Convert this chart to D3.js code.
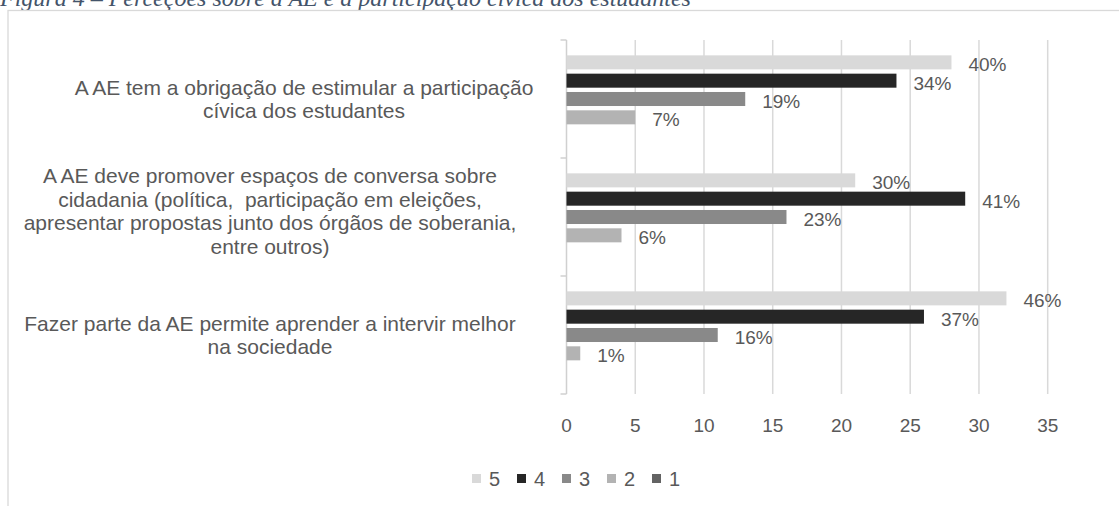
<!DOCTYPE html>
<html>
<head>
<meta charset="utf-8">
<script src="https://cdn.jsdelivr.net/npm/d3@7"></script>
<style>
  body { margin: 0; background: #fff; }
  svg { display: block; }
  .lbl { font-family: "Liberation Sans", Arial, sans-serif; fill: #595959; }
</style>
</head>
<body>
<svg id="chart" width="1119" height="506"></svg>
<script>
const CAPTION = "Figura 4 – Perceções sobre a AE e a participação cívica dos estudantes";

// category labels, already wrapped the way the original shows them
const categories = [
  ["A AE tem a obrigação de estimular a participação", "cívica dos estudantes"],
  ["A AE deve promover espaços de conversa sobre", "cidadania (política,  participação em eleições,",
    "apresentar propostas junto dos órgãos de soberania,", "entre outros)"],
  ["Fazer parte da AE permite aprender a intervir melhor", "na sociedade"]
];

const seriesKeys = ["5", "4", "3", "2", "1"];
const values5 = [28, 21, 32];
const values4 = [24, 29, 26];
const values3 = [13, 16, 11];
const values2 = [5, 4, 1];
const values1 = [0, 0, 0];
const xTicks = [0, 5, 10, 15, 20, 25, 30, 35];

const seriesValues = { "5": values5, "4": values4, "3": values3, "2": values2, "1": values1 };
const colors = { "5": "#d9d9d9", "4": "#262626", "3": "#898989", "2": "#b3b3b3", "1": "#636363" };

// layout
const PLOT = { left: 566.5, right: 1047.7, top: 40, bottom: 394 };
const LABEL_CENTER = [304, 270, 270];
const LABEL_NUDGE = [0, -6, 0];
const LINE_H = 23.6;
const FONT = 19;
const CAT_FONT = 21;

const svg = d3.select("#chart");

// caption, cut off at the top edge like the source
svg.append("text")
  .attr("x", 0)
  .attr("y", 6)
  .attr("font-family", "'Liberation Serif', 'Times New Roman', serif")
  .attr("font-style", "italic")
  .attr("font-size", 24)
  .attr("fill", "#44546a")
  .text(CAPTION);

// chart frame
svg.append("rect")
  .attr("x", 8)
  .attr("y", 10.5)
  .attr("width", 1200)
  .attr("height", 600)
  .attr("fill", "none")
  .attr("stroke", "#d9d9d9")
  .attr("stroke-width", 1.3);

const x = d3.scaleLinear().domain([0, 35]).range([PLOT.left, PLOT.right]);
const y0 = d3.scaleBand()
  .domain(d3.range(categories.length))
  .range([PLOT.top, PLOT.bottom])
  .paddingInner(0.26)
  .paddingOuter(0.13);
const y1 = d3.scaleBand()
  .domain(seriesKeys)
  .range([0, y0.bandwidth()])
  .paddingInner(0.235);
const step = y0.step();

// gridlines
svg.append("g")
  .selectAll("line")
  .data(xTicks.filter((t) => t > 0))
  .join("line")
  .attr("x1", (t) => x(t))
  .attr("x2", (t) => x(t))
  .attr("y1", PLOT.top)
  .attr("y2", PLOT.bottom)
  .attr("stroke", "#d9d9d9")
  .attr("stroke-width", 1.5);

// category axis with outside ticks on band boundaries
const axisG = svg.append("g").attr("stroke", "#d0d0d0").attr("stroke-width", 1.5);
axisG.append("line")
  .attr("x1", x(0)).attr("x2", x(0))
  .attr("y1", PLOT.top).attr("y2", PLOT.bottom);
axisG.selectAll(".tick")
  .data(d3.range(categories.length + 1))
  .join("line")
  .attr("class", "tick")
  .attr("x1", x(0) - 6).attr("x2", x(0))
  .attr("y1", (i) => PLOT.top + i * step)
  .attr("y2", (i) => PLOT.top + i * step);

// bars
const rows = [];
categories.forEach((cat, ci) => {
  const total = d3.sum(seriesKeys, (k) => seriesValues[k][ci]);
  seriesKeys.forEach((k) => {
    rows.push({ ci, key: k, value: seriesValues[k][ci], share: seriesValues[k][ci] / total });
  });
});

const groups = svg.append("g")
  .selectAll("g")
  .data(categories.map((c, i) => i))
  .join("g")
  .attr("transform", (i) => `translate(0,${y0(i)})`);

groups.selectAll("rect")
  .data((i) => rows.filter((r) => r.ci === i && r.value > 0))
  .join("rect")
  .attr("x", x(0))
  .attr("y", (r) => y1(r.key))
  .attr("width", (r) => x(r.value) - x(0))
  .attr("height", y1.bandwidth())
  .attr("fill", (r) => colors[r.key]);

const pct = d3.format(".0%");
groups.selectAll("text")
  .data((i) => rows.filter((r) => r.ci === i && r.value > 0))
  .join("text")
  .attr("class", "lbl")
  .attr("font-size", FONT)
  .attr("x", (r) => x(r.value) + 17)
  .attr("y", (r) => y1(r.key) + y1.bandwidth() / 2 + 9)
  .text((r) => pct(r.share));

// category labels
const catG = svg.append("g")
  .selectAll("text")
  .data(categories)
  .join("text")
  .attr("class", "lbl")
  .attr("font-size", CAT_FONT)
  .attr("text-anchor", "middle")
  .attr("transform", (lines, i) => {
    const mid = y0(i) + y0.bandwidth() / 2 + LABEL_NUDGE[i];
    const firstBase = mid - ((lines.length - 1) * LINE_H) / 2 + 7.5;
    return `translate(${LABEL_CENTER[i]},${firstBase})`;
  });
catG.selectAll("tspan")
  .data((lines) => lines)
  .join("tspan")
  .attr("x", 0)
  .attr("y", (d, j) => j * LINE_H)
  .style("white-space", "pre")
  .text((d) => d);

// value axis labels
svg.append("g")
  .selectAll("text")
  .data(xTicks)
  .join("text")
  .attr("class", "lbl")
  .attr("font-size", FONT)
  .attr("text-anchor", "middle")
  .attr("x", (t) => x(t))
  .attr("y", 432)
  .text((t) => t);

// legend
const legendX = d3.scalePoint().domain(seriesKeys).range([472, 652]);
const legend = svg.append("g")
  .selectAll("g")
  .data(seriesKeys)
  .join("g")
  .attr("transform", (k) => `translate(${legendX(k)},474)`);
legend.append("rect")
  .attr("width", 9)
  .attr("height", 9)
  .attr("fill", (k) => colors[k]);
legend.append("text")
  .attr("class", "lbl")
  .attr("font-size", FONT + 1)
  .attr("x", 17)
  .attr("y", 11.5)
  .text((k) => k);
</script>
</body>
</html>
